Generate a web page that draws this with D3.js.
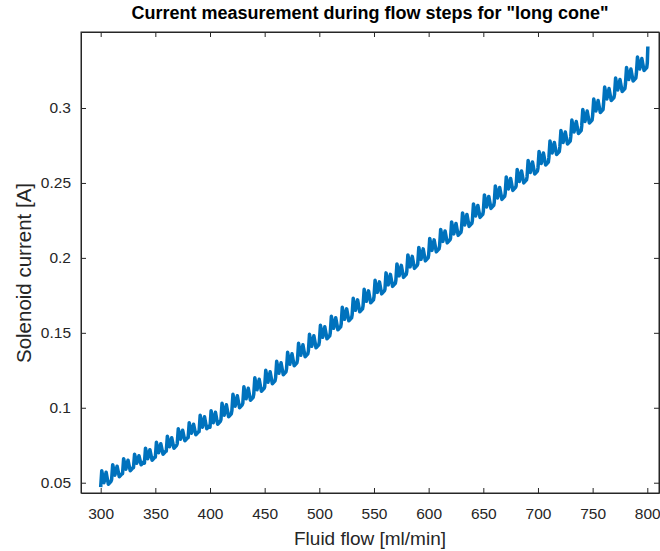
<!DOCTYPE html>
<html lang="en">
<head>
  <meta charset="UTF-8">
  <title>Current measurement during flow steps</title>
  <script src="https://cdn.jsdelivr.net/npm/d3@7/dist/d3.min.js"></script>
  <style>
    body { margin: 0; background: #fff; }
    svg { display: block; font-family: "Liberation Sans", Arial, sans-serif; }
  </style>
</head>
<body>
<svg id="chart"></svg>
<script>
  // flow set points (ml/min), each step runs to the next set point
  const flowSteps = [300, 310, 320, 330, 340, 350, 360, 370, 380, 390,
    400, 410, 420, 430, 440, 450, 460, 470, 480, 490,
    500, 510, 520, 530, 540, 550, 560, 570, 580, 590,
    600, 610, 620, 630, 640, 650, 660, 670, 680, 690,
    700, 710, 720, 730, 740, 750, 760, 770, 780, 790, 800]
  // current at the low and high end of each step (A)
  const currentLow = [0.047, 0.052, 0.056, 0.060, 0.063, 0.067, 0.071, 0.076, 0.080, 0.084,
    0.087, 0.092, 0.098, 0.103, 0.109, 0.114, 0.120, 0.126, 0.132, 0.138,
    0.144, 0.150, 0.156, 0.162, 0.168, 0.174, 0.179, 0.185, 0.191, 0.196,
    0.202, 0.208, 0.213, 0.219, 0.225, 0.231, 0.237, 0.243, 0.248, 0.254,
    0.260, 0.267, 0.274, 0.281, 0.288, 0.295, 0.303, 0.309, 0.316, 0.323, 0.330]
  const currentHigh = [0.058, 0.062, 0.066, 0.069, 0.073, 0.077, 0.081, 0.086, 0.090, 0.095,
    0.098, 0.103, 0.109, 0.114, 0.120, 0.125, 0.131, 0.137, 0.143, 0.149,
    0.155, 0.161, 0.167, 0.173, 0.179, 0.185, 0.190, 0.196, 0.202, 0.207,
    0.213, 0.219, 0.224, 0.230, 0.236, 0.242, 0.248, 0.254, 0.259, 0.265,
    0.271, 0.278, 0.285, 0.292, 0.299, 0.306, 0.314, 0.320, 0.327, 0.334, 0.341]
  const xTicks = [300, 350, 400, 450, 500, 550, 600, 650, 700, 750, 800]
  const yTicks = [0.05, 0.1, 0.15, 0.2, 0.25, 0.3]

  const width = 660
  const height = 551
  const margin = {top: 32, right: 1, bottom: 58, left: 81}
  const axisColor = "#262626"
  const lineColor = "#0072bd"

  const svg = d3.select("#chart").attr("width", width).attr("height", height)

  const x = d3.scaleLinear().domain([282, 810.7]).range([margin.left, width - margin.right])
  const y = d3.scaleLinear().domain([0.04313, 0.35071]).range([height - margin.bottom, margin.top])

  // each step: jump up at the start, noisy plateau, sag before the next step
  const points = []
  flowSteps.forEach((f, i) => {
    if (i === flowSteps.length - 1) {
      points.push([f, currentLow[i]])
      points.push([f + 0.5, currentHigh[i]])
      return
    }
    points.push([f, currentLow[i]])
    points.push([f + 1, currentHigh[i]])
    points.push([f + 3, currentLow[i] + 0.003])
    points.push([f + 5, currentHigh[i] - 0.001])
    points.push([f + 7, currentLow[i] + 0.002])
    points.push([f + 9.5, currentLow[i] + 0.004])
  })

  const line = d3.line().x(d => x(d[0])).y(d => y(d[1]))

  svg.append("path")
    .datum(points)
    .attr("fill", "none")
    .attr("stroke", lineColor)
    .attr("stroke-width", 3.5)
    .attr("stroke-linejoin", "round")
    .attr("d", line)

  // axes, ticks pointing inward like MATLAB
  const tickLen = 5
  const xAxisB = d3.axisBottom(x).tickValues(xTicks).tickSizeInner(-tickLen).tickSizeOuter(0).tickPadding(15)
  const xAxisT = d3.axisTop(x).tickValues(xTicks).tickSizeInner(-tickLen).tickSizeOuter(0).tickFormat("")
  const yAxisL = d3.axisLeft(y).tickValues(yTicks).tickSizeInner(-tickLen).tickSizeOuter(0).tickPadding(10).tickFormat(d3.format("~g"))
  const yAxisR = d3.axisRight(y).tickValues(yTicks).tickSizeInner(-tickLen).tickSizeOuter(0).tickFormat("")

  svg.append("g").attr("transform", `translate(0,${height - margin.bottom})`).call(xAxisB)
  svg.append("g").attr("transform", `translate(0,${margin.top})`).call(xAxisT)
  svg.append("g").attr("transform", `translate(${margin.left},0)`).call(yAxisL)
  svg.append("g").attr("transform", `translate(${width - margin.right},0)`).call(yAxisR)

  svg.selectAll(".domain, .tick line").attr("stroke", axisColor)
  svg.selectAll(".tick text").attr("fill", axisColor).attr("font-size", 15.5)
    .attr("font-family", "'Liberation Sans', Arial, sans-serif")

  svg.append("rect")
    .attr("x", margin.left).attr("y", margin.top)
    .attr("width", width - margin.left - margin.right)
    .attr("height", height - margin.top - margin.bottom)
    .attr("fill", "none").attr("stroke", axisColor).attr("stroke-width", 1)

  const cx = (margin.left + width - margin.right) / 2
  svg.append("text")
    .attr("x", cx).attr("y", 19)
    .attr("text-anchor", "middle")
    .attr("font-size", 18).attr("font-weight", "bold").attr("fill", "#000")
    .text('Current measurement during flow steps for "long cone"')

  svg.append("text")
    .attr("x", cx).attr("y", 545)
    .attr("text-anchor", "middle")
    .attr("font-size", 19).attr("fill", axisColor)
    .text("Fluid flow [ml/min]")

  svg.append("text")
    .attr("transform", "translate(31,273) rotate(-90)")
    .attr("text-anchor", "middle")
    .attr("font-size", 20.5).attr("fill", axisColor)
    .text("Solenoid current [A]")
</script>
</body>
</html>
